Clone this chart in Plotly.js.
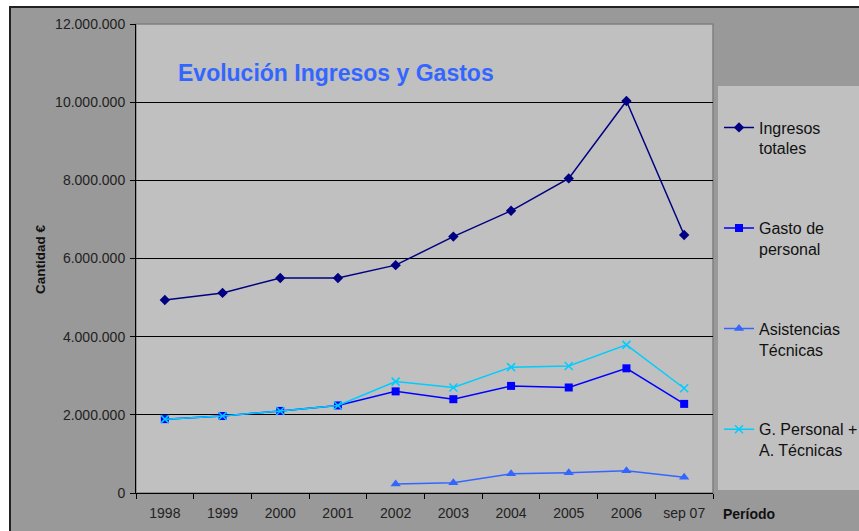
<!DOCTYPE html>
<html>
<head>
<meta charset="utf-8">
<script src="https://cdn.plot.ly/plotly-3.0.1.min.js"></script>
<style>html,body{margin:0;padding:0;background:#fff;}#chart{width:859px;height:531px;}</style>
</head>
<body>
<div id="chart"></div>
<script>
var categories = ['1998','1999','2000','2001','2002','2003','2004','2005','2006','sep 07'];
var ingresosTotales = [4940000, 5120000, 5500000, 5500000, 5830000, 6560000, 7220000, 8050000, 10030000, 6600000];
var gastoPersonal = [1890000, 1970000, 2100000, 2240000, 2600000, 2400000, 2740000, 2700000, 3190000, 2280000];
var asistenciasCategories = ['2002','2003','2004','2005','2006','sep 07'];
var asistenciasTecnicas = [230000, 260000, 490000, 520000, 570000, 400000];
var gPersonalMasAT = [1890000, 1970000, 2100000, 2240000, 2850000, 2700000, 3220000, 3250000, 3790000, 2680000];
var seriesNames = ['Ingresos<br>totales', 'Gasto de<br>personal', 'Asistencias<br>Técnicas', 'G. Personal +<br>A. Técnicas'];
var yTitle = 'Cantidad €';
var xTitle = 'Período';
var chartTitle = 'Evolución Ingresos y Gastos';

var W = 859, H = 531;
var L = 136, R = 713, T = 24, B = 493;
function px(x){ return (x - L) / (R - L); }
function py(y){ return (B - y) / (B - T); }

var font = {family: 'Liberation Sans, Arial, sans-serif', color: '#222', size: 14};

var traces = [
  {x: categories, y: ingresosTotales, name: seriesNames[0], type: 'scatter', mode: 'lines+markers',
   line: {color: '#000080', width: 1.5}, marker: {symbol: 'diamond', size: 8, color: '#000080'}, legendgroup: 'a'},
  {x: categories, y: gastoPersonal, name: seriesNames[1], type: 'scatter', mode: 'lines+markers',
   line: {color: '#0000ff', width: 1.5}, marker: {symbol: 'square', size: 8, color: '#0000ff'}, legendgroup: 'b'},
  {x: asistenciasCategories, y: asistenciasTecnicas, name: seriesNames[2], type: 'scatter', mode: 'lines+markers',
   line: {color: '#3366ff', width: 1.5}, marker: {symbol: 'triangle-up', size: 9, color: '#3366ff'}, legendgroup: 'c'},
  {x: categories, y: gPersonalMasAT, name: seriesNames[3], type: 'scatter', mode: 'lines+markers',
   line: {color: '#00ccff', width: 1.5}, marker: {symbol: 'x-thin', size: 8, color: '#00ccff', line: {color: '#00ccff', width: 1.5}}, legendgroup: 'd'}
];

var layout = {
  width: W, height: H,
  margin: {l: L, r: W - R, t: T, b: H - B, pad: 0, autoexpand: false},
  paper_bgcolor: '#ffffff',
  plot_bgcolor: '#c0c0c0',
  separators: ',.',
  font: font,
  showlegend: true,
  title: {text: chartTitle, font: {family: 'Liberation Sans, Arial, sans-serif', size: 23, color: '#3366ff', weight: 'bold'},
          xref: 'paper', yref: 'paper', x: px(178), xanchor: 'left', y: py(73), yanchor: 'middle'},
  xaxis: {type: 'category', categoryorder: 'array', categoryarray: categories, range: [-0.5, 9.5],
          tickson: 'boundaries', ticks: 'outside', ticklen: 5, tickcolor: '#000', tickwidth: 1,
          showline: true, linecolor: '#000', linewidth: 1, showgrid: false, zeroline: false,
          tickfont: font, fixedrange: true, automargin: false, ticklabelstandoff: 7},
  yaxis: {range: [0, 12000000], dtick: 2000000, tick0: 0, tickformat: ',d',
          ticks: 'outside', ticklen: 5, tickcolor: '#000', tickwidth: 1,
          showline: true, linecolor: '#000', linewidth: 1,
          showgrid: true, gridcolor: '#000', gridwidth: 1, zeroline: false,
          tickfont: font, fixedrange: true, automargin: false, ticklabelstandoff: 2},
  legend: {x: px(719), xanchor: 'left', y: py(110.5), yanchor: 'top', bgcolor: 'rgba(0,0,0,0)', borderwidth: 0,
           font: {family: 'Liberation Sans, Arial, sans-serif', size: 16, color: '#111'},
           traceorder: 'grouped', tracegroupgap: 56, valign: 'top'},
  shapes: [
    {type: 'rect', xref: 'paper', yref: 'paper', x0: px(10), x1: px(880), y0: py(560), y1: py(7),
     fillcolor: '#999999', line: {color: '#222', width: 2}, layer: 'below'},
    {type: 'rect', xref: 'paper', yref: 'paper', x0: 0, x1: 1, y0: 0, y1: 1,
     fillcolor: '#c0c0c0', line: {color: '#808080', width: 1.5}, layer: 'below'},
    {type: 'rect', xref: 'paper', yref: 'paper', x0: px(718), x1: px(880), y0: py(490), y1: py(86),
     fillcolor: '#c0c0c0', line: {width: 0}, layer: 'below'}
  ],
  annotations: [
    {text: '<b>' + yTitle + '</b>', xref: 'paper', yref: 'paper', x: px(40), y: py(259), xanchor: 'center', yanchor: 'middle',
     textangle: -90, showarrow: false, font: {family: 'Liberation Sans, Arial, sans-serif', size: 13.5, color: '#111'}},
    {text: '<b>' + xTitle + '</b>', xref: 'paper', yref: 'paper', x: px(721), y: py(514), xanchor: 'left', yanchor: 'middle',
     showarrow: false, font: {family: 'Liberation Sans, Arial, sans-serif', size: 14, color: '#111'}}
  ]
};

Plotly.newPlot('chart', traces, layout, {displayModeBar: false, staticPlot: true});
</script>
</body>
</html>
